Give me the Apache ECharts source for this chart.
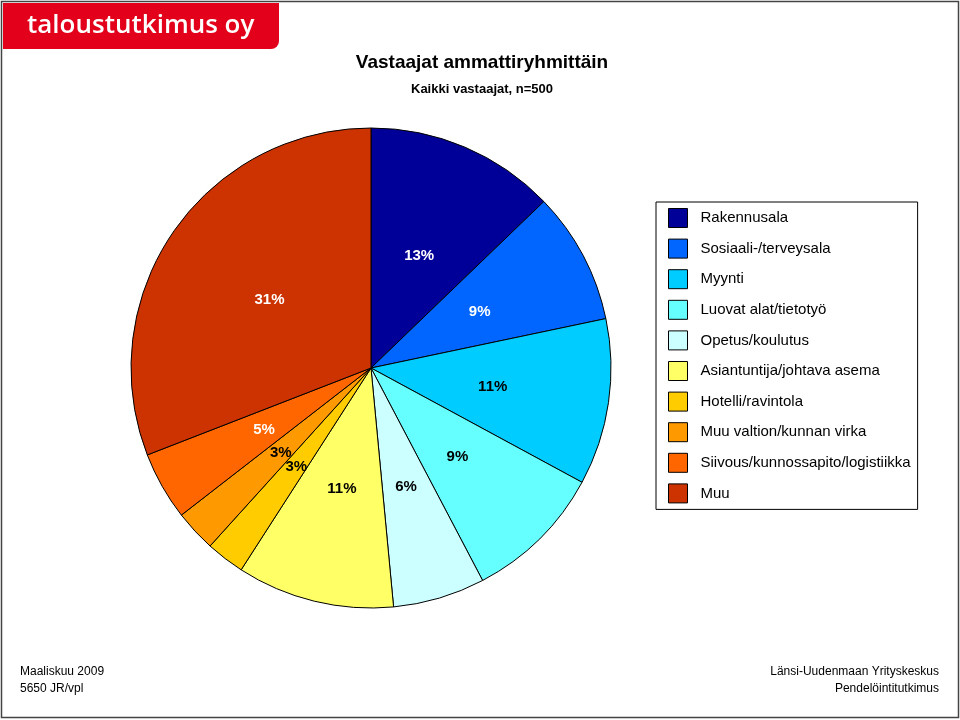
<!DOCTYPE html>
<html><head><meta charset="utf-8">
<script src="https://cdn.jsdelivr.net/npm/echarts@6/dist/echarts.min.js"></script>
<style>html,body{margin:0;padding:0;background:#fff}#c{width:960px;height:720px}</style>
</head><body><div id="c"></div>
<script>
const categories = ['Rakennusala','Sosiaali-/terveysala','Myynti','Luovat alat/tietotyö','Opetus/koulutus','Asiantuntija/johtava asema','Hotelli/ravintola','Muu valtion/kunnan virka','Siivous/kunnossapito/logistiikka','Muu'];
const values = [12.8, 8.9, 11.2, 9.4, 6.2, 10.6, 2.6, 2.8, 4.6, 30.9];
const labels = ['13%','9%','11%','9%','6%','11%','3%','3%','5%','31%'];
const colors = ['#000099','#0066ff','#00ccff','#66ffff','#ccffff','#ffff66','#ffcc00','#ff9900','#ff6600','#cc3300'];
const labelColors = ['#fff','#fff','#000','#000','#000','#000','#000','#000','#fff','#fff'];

const chart = echarts.init(document.getElementById('c'));
chart.setOption({
  animation: false,
  backgroundColor: '#fff',
  legend: {
    orient: 'vertical', left: 656, top: 202,
    padding: [6, 7, 6, 12],
    itemWidth: 19, itemHeight: 19, itemGap: 10.6,
    borderColor: '#000', borderWidth: 1,
    icon: 'rect',
    itemStyle: {borderColor: '#000', borderWidth: 1},
    textStyle: {fontFamily: 'Liberation Sans', fontSize: 15, lineHeight: 19, color: '#000', padding: [0, 0, 0, 8]},
    data: categories
  },
  series: [{
    type: 'pie',
    center: [371, 368],
    radius: 240,
    startAngle: 90,
    clockwise: true,
    avoidLabelOverlap: false,
    labelLayout: {hideOverlap: false},
    itemStyle: {borderColor: '#000', borderWidth: 1},
    emphasis: {disabled: true},
    label: {position: 'inside', fontFamily: 'Liberation Sans', fontSize: 15, fontWeight: 'bold', offset: [0, 1]},
    labelLine: {show: false},
    data: categories.map((n, i) => ({
      name: n, value: values[i],
      itemStyle: {color: colors[i]},
      label: {formatter: labels[i], color: labelColors[i]}
    }))
  }],
  graphic: [
    {type: 'rect', shape: {x: 1.5, y: 1.5, width: 957, height: 716}, style: {fill: 'none', stroke: '#444', lineWidth: 1.5}, z: 10},
    {type: 'rect', shape: {x: 3, y: 3, width: 276, height: 46, r: [0, 0, 8, 0]}, style: {fill: '#e2001a'}, z: 11},
    {type: 'text', x: 27, y: 26, style: {text: 'taloustutkimus oy', fill: '#fff', font: '600 26px "Open Sans"', textVerticalAlign: 'middle'}, z: 12},
    {type: 'text', x: 482, y: 63, style: {text: 'Vastaajat ammattiryhmittäin', fill: '#000', font: 'bold 19px "Liberation Sans"', textAlign: 'center', textVerticalAlign: 'middle'}},
    {type: 'text', x: 482, y: 89, style: {text: 'Kaikki vastaajat, n=500', fill: '#000', font: 'bold 13px "Liberation Sans"', textAlign: 'center', textVerticalAlign: 'middle'}},
    {type: 'text', left: 20, top: 666, style: {text: 'Maaliskuu 2009', fill: '#000', font: '12px "Liberation Sans"'}},
    {type: 'text', left: 20, top: 683, style: {text: '5650 JR/vpl', fill: '#000', font: '12px "Liberation Sans"'}},
    {type: 'text', right: 21, top: 666, style: {text: 'Länsi-Uudenmaan Yrityskeskus', fill: '#000', font: '12px "Liberation Sans"', textAlign: 'right'}},
    {type: 'text', right: 21, top: 683, style: {text: 'Pendelöintitutkimus', fill: '#000', font: '12px "Liberation Sans"', textAlign: 'right'}}
  ]
});
</script></body></html>
